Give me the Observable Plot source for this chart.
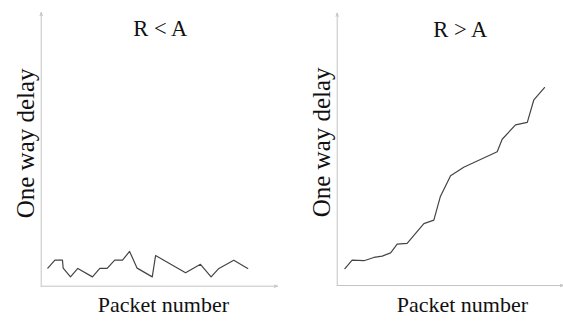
<!DOCTYPE html>
<html>
<head>
<meta charset="utf-8">
<script src="https://cdn.jsdelivr.net/npm/d3@7"></script>
<script src="https://cdn.jsdelivr.net/npm/@observablehq/plot@0.6"></script>
<style>
  html, body { margin: 0; padding: 0; background: #fff; }
  #row { display: flex; width: 563px; height: 327px; overflow: hidden; }
  svg { display: block; }
</style>
</head>
<body>
<div id="row"></div>
<script>
// Panel titles and axis labels
const titles = ["R < A", "R > A"];
const xLabel = "Packet number";
const yLabel = "One way delay";

// Left panel (R < A): delay stays low and fluctuates
const leftX = [2.8, 5.8, 9.0, 9.3, 12.4, 15.5, 21.7, 24.8, 27.9, 31.1, 34.4, 37.4, 40.6, 47.0, 48.4, 61.1, 67.4, 71.9, 75.2, 81.5, 87.4];
const leftY = [6.6, 9.5, 9.5, 6.6, 3.4, 6.5, 3.4, 6.5, 6.5, 9.5, 9.5, 12.7, 6.6, 3.4, 11.2, 4.9, 8.0, 3.4, 6.5, 9.5, 6.5];

// Right panel (R > A): delay increases
const rightX = [3.4, 6.6, 11.8, 16.2, 19.9, 23.6, 26.5, 30.9, 38.3, 42.7, 45.6, 50.1, 55.9, 70.7, 72.9, 78.8, 84.0, 86.9, 91.6];
const rightY = [6.2, 9.3, 9.1, 10.3, 10.8, 12.0, 15.2, 15.5, 22.7, 24.0, 32.7, 40.3, 43.4, 49.1, 53.7, 59.0, 59.9, 68.2, 72.7];

const domainMax = 100;

function panel(xs, ys, title, opts) {
  const data = xs.map((x, i) => ({x, y: ys[i]}));
  const axes = [
    {x1: 0, y1: 0, x2: domainMax, y2: 0},
    {x1: 0, y1: 0, x2: 0, y2: domainMax}
  ];
  const font = "Liberation Serif, Times New Roman, serif";
  return Plot.plot({
    width: opts.width,
    height: 327,
    marginLeft: opts.ml,
    marginTop: opts.mt,
    marginBottom: opts.mb,
    marginRight: opts.mr,
    x: {domain: [0, domainMax], axis: null},
    y: {domain: [0, domainMax], axis: null},
    style: {fontFamily: font, background: "#fff"},
    marks: [
      Plot.arrow(axes, {x1: "x1", y1: "y1", x2: "x2", y2: "y2", stroke: "#c4c4c4", strokeWidth: 1, headLength: 5, headAngle: 40}),
      Plot.line(data, {x: "x", y: "y", stroke: "#444", strokeWidth: 1.2}),
      Plot.text([title], {frameAnchor: "top", dy: 8, dx: opts.tdx, text: d => d, fontSize: 22.5, fill: "#111", fontFamily: font}),
      Plot.text([xLabel], {frameAnchor: "bottom", dy: 26, dx: opts.xdx, text: d => d, fontSize: 22, fill: "#111", fontFamily: font}),
      Plot.text([yLabel], {frameAnchor: "left", textAnchor: "middle", dx: -15.4, dy: opts.ydy, rotate: -90, text: d => d, fontSize: 25, fill: "#111", fontFamily: font})
    ]
  });
}

const row = document.getElementById("row");
row.append(panel(leftX, leftY, titles[0], {width: 290, ml: 40.7, mt: 12, mb: 41.3, mr: 13, tdx: 1, xdx: 4, ydy: -6}));
row.append(panel(rightX, rightY, titles[1], {width: 273, ml: 46.7, mt: 12.7, mb: 42, mr: 0, tdx: 10, xdx: 12, ydy: -7}));
</script>
</body>
</html>
